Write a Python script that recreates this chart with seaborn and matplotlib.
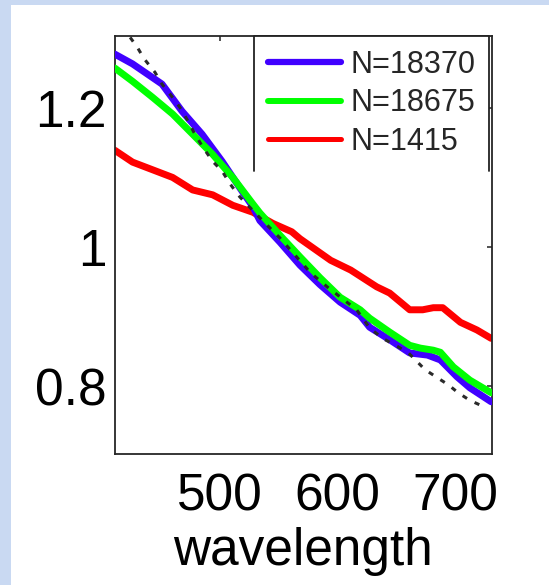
import numpy as np
import pandas as pd
import matplotlib
matplotlib.use("Agg")
import matplotlib.pyplot as plt
import seaborn as sns
from matplotlib.patches import Rectangle
from matplotlib.lines import Line2D

# ---- data ----
wl_blue = [411, 426, 451, 468, 485, 502, 519, 528, 534, 551, 568, 585, 602, 619, 627, 644, 661, 676, 687, 701, 712, 730]
val_blue = [1.277, 1.263, 1.234, 1.195, 1.162, 1.123, 1.080, 1.058, 1.038, 1.007, 0.974, 0.946, 0.921, 0.902, 0.885, 0.867, 0.848, 0.845, 0.838, 0.814, 0.798, 0.778]

wl_green = [411, 426, 443, 460, 477, 494, 511, 528, 534, 551, 568, 585, 602, 619, 627, 644, 661, 670, 681, 687, 698, 712, 730]
val_green = [1.257, 1.238, 1.215, 1.191, 1.162, 1.133, 1.100, 1.062, 1.049, 1.017, 0.986, 0.956, 0.928, 0.910, 0.898, 0.878, 0.859, 0.855, 0.852, 0.849, 0.828, 0.809, 0.791]

wl_red = [411, 426, 443, 460, 477, 494, 511, 528, 545, 561, 568, 594, 611, 633, 644, 661, 672, 681, 689, 704, 718, 730]
val_red = [1.139, 1.122, 1.111, 1.100, 1.082, 1.075, 1.060, 1.050, 1.034, 1.022, 1.012, 0.981, 0.967, 0.943, 0.934, 0.910, 0.910, 0.913, 0.913, 0.892, 0.881, 0.869]

wl_ref = [424, 430, 436, 445, 451, 459, 466, 473, 478, 485, 494, 502, 509, 517, 534, 551, 577, 591, 616, 627, 638, 649, 660, 674, 684, 694, 702, 712, 725]
val_ref = [1.301, 1.287, 1.270, 1.251, 1.234, 1.217, 1.201, 1.181, 1.165, 1.145, 1.123, 1.109, 1.090, 1.072, 1.042, 1.013, 0.963, 0.943, 0.910, 0.884, 0.869, 0.859, 0.848, 0.824, 0.813, 0.802, 0.791, 0.780, 0.770]

labels = ["N=18370", "N=18675", "N=1415"]
colors = ["#4000ff", "#00ff00", "#ff0000"]
xticks = [500, 600, 700]
xtick_labels = ["500", "600", "700"]
yticks = [0.8, 1.0, 1.2]
ytick_labels = ["0.8", "1", "1.2"]
xlabel = "wavelength"

sns.set_style("white")
plt.rcParams['font.family'] = ['Liberation Sans', 'DejaVu Sans']

W, H = 549, 585
fig = plt.figure(figsize=(W / 100, H / 100), dpi=100, facecolor='#c9d9f2')
fig.patches.append(Rectangle((11 / W, 0), 1, 580 / H, transform=fig.transFigure,
                             facecolor='white', edgecolor='none', zorder=-5))
ax_l, ax_r, ax_t, ax_b = 114.8, 491.7, 36, 454
ax = fig.add_axes([ax_l / W, 1 - ax_b / H, (ax_r - ax_l) / W, (ax_b - ax_t) / H])
ax.set_facecolor('white')

sns.lineplot(x=wl_red, y=val_red, ax=ax, color=colors[2], lw=5, estimator=None, zorder=2)
sns.lineplot(x=wl_blue, y=val_blue, ax=ax, color=colors[0], lw=5, estimator=None, zorder=3)
sns.lineplot(x=wl_green, y=val_green, ax=ax, color=colors[1], lw=5, estimator=None, zorder=4)
sns.lineplot(x=wl_ref, y=val_ref, ax=ax, color='#2a2a2a', lw=2.2, estimator=None, zorder=5,
             linestyle=(0, (1.7, 2.8)))

ax.set_xlim(411, 730.5)
ax.set_ylim(0.703, 1.303)
ax.set_xticks(xticks)
ax.set_xticklabels(xtick_labels)
ax.set_yticks(yticks)
ax.set_yticklabels(ytick_labels)
ax.tick_params(axis='both', direction='in', length=3.8, width=1.1, color='#222222',
               top=True, right=True, labelsize=37, labelcolor='black')
ax.tick_params(axis='y', pad=6)
ax.tick_params(axis='x', pad=13)
for s in ax.spines.values():
    s.set_visible(True)
    s.set_color('#262626')
    s.set_linewidth(1.3)
ax.set_xlabel(xlabel, fontsize=37, labelpad=4, color='black')
ax.set_ylabel('')

handles = [Line2D([], [], color=colors[0], lw=4.5),
           Line2D([], [], color=colors[1], lw=4.3),
           Line2D([], [], color=colors[2], lw=3.6)]
leg = ax.legend(handles, labels, loc='upper right', bbox_to_anchor=(0.993, 1.0),
                borderaxespad=0, fontsize=22, handlelength=2.4, handletextpad=0.3,
                borderpad=0.45, labelspacing=0.28, frameon=True, fancybox=False,
                framealpha=1)
leg.get_frame().set_facecolor('white')
leg.get_frame().set_edgecolor('none')
leg.set_zorder(10)

fig.canvas.draw()
bb = leg.get_frame().get_window_extent()
inv = ax.transAxes.inverted()
(x0, y0), (x1, y1) = inv.transform([[bb.x0, bb.y0], [bb.x1, bb.y1]])
ax.plot([x0, x0, x1, x1], [y0, y1, y1, y0], transform=ax.transAxes, color='#222222',
        lw=1.3, clip_on=False, zorder=11)

fig.savefig('out.png', dpi=100, facecolor=fig.get_facecolor())
